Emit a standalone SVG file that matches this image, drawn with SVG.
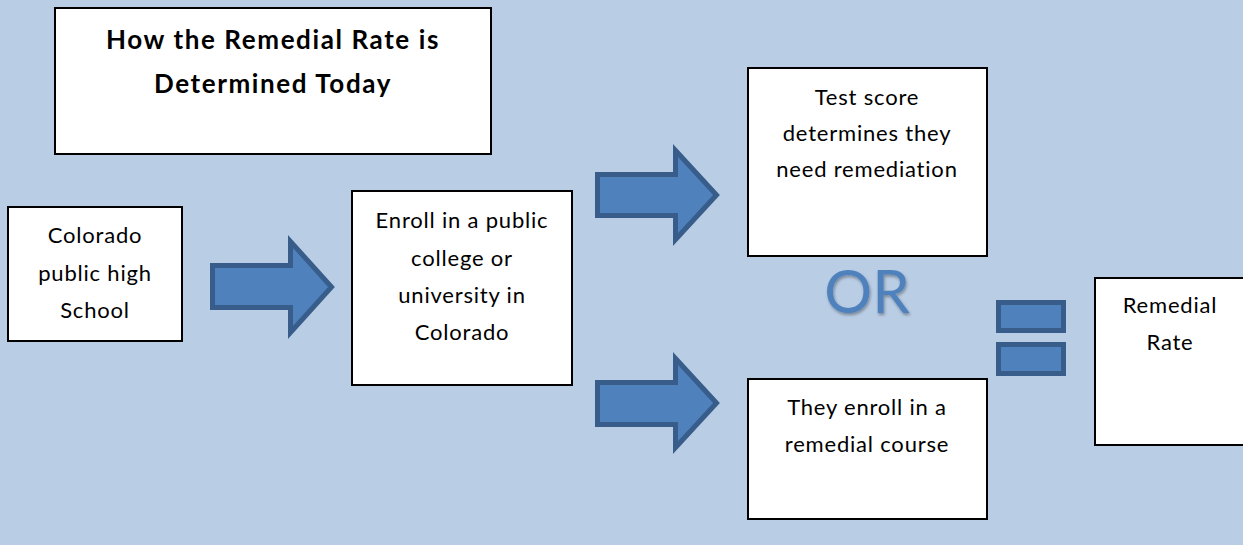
<svg xmlns="http://www.w3.org/2000/svg" width="1243" height="545" viewBox="0 0 1243 545">
<style>
.box{fill:#fff;stroke:#000;stroke-width:2}
.t{font-family:Lato,"Open Sans","Liberation Sans",sans-serif;font-size:22px;letter-spacing:0.8px;fill:#000;text-anchor:middle}
.title{font-family:Lato,"Open Sans","Liberation Sans",sans-serif;font-size:26px;letter-spacing:1.6px;font-weight:bold;fill:#000;text-anchor:middle}
.arrow{fill:#4F81BD;stroke:#385D8A;stroke-width:5;stroke-linejoin:miter}
.or{font-family:Lato,"Open Sans","Liberation Sans",sans-serif;font-size:60px;fill:#4F81BD;text-anchor:middle}
</style>
<defs>
<filter id="sh" x="-20%" y="-20%" width="140%" height="150%">
<feGaussianBlur in="SourceAlpha" stdDeviation="1.5"/>
<feOffset dx="1" dy="2" result="b"/>
<feFlood flood-color="#000" flood-opacity="0.35"/>
<feComposite in2="b" operator="in"/>
<feMerge><feMergeNode/><feMergeNode in="SourceGraphic"/></feMerge>
</filter>
</defs>
<rect width="1243" height="545" fill="#B9CDE5"/>
<g id="title">
<rect class="box" x="55" y="8" width="436" height="146"/>
<text class="title" x="273" y="49">How the Remedial Rate is</text>
<text class="title" x="273" y="93">Determined Today</text>
</g>
<g id="colorado">
<rect class="box" x="8" y="207" width="174" height="134"/>
<text class="t" x="95" y="243">Colorado</text>
<text class="t" x="95" y="281">public high</text>
<text class="t" x="95" y="318">School</text>
</g>
<g id="enroll">
<rect class="box" x="352" y="191" width="220" height="194"/>
<text class="t" x="462" y="228">Enroll in a public</text>
<text class="t" x="462" y="266">college or</text>
<text class="t" x="462" y="303">university in</text>
<text class="t" x="462" y="340">Colorado</text>
</g>
<g id="testscore">
<rect class="box" x="748" y="68" width="239" height="188"/>
<text class="t" x="867" y="105">Test score</text>
<text class="t" x="867" y="141">determines they</text>
<text class="t" x="867" y="177">need remediation</text>
</g>
<g id="remedialcourse">
<rect class="box" x="748" y="379" width="239" height="140"/>
<text class="t" x="867" y="415">They enroll in a</text>
<text class="t" x="867" y="452">remedial course</text>
</g>
<g id="remedialrate">
<rect class="box" x="1095" y="278" width="160" height="167"/>
<text class="t" x="1170" y="313">Remedial</text>
<text class="t" x="1170" y="350">Rate</text>
</g>
<g id="or">
<text class="or" x="867" y="313" filter="url(#sh)">OR</text>
</g>
<g id="connectors">
<path class="arrow" d="M212.5,265.5 H290.5 V241.5 L331.5,287 L290.5,332.5 V307.5 H212.5 Z"/>
<path class="arrow" d="M597.5,174.5 H675.5 V150.5 L716.5,195 L675.5,239.5 V215.5 H597.5 Z"/>
<path class="arrow" d="M597.5,382.5 H675.5 V358.5 L716.5,403 L675.5,447.5 V424.5 H597.5 Z"/>
<rect class="arrow" x="998.5" y="302.5" width="65" height="28"/>
<rect class="arrow" x="998.5" y="344.5" width="65" height="29"/>
</g>
</svg>
